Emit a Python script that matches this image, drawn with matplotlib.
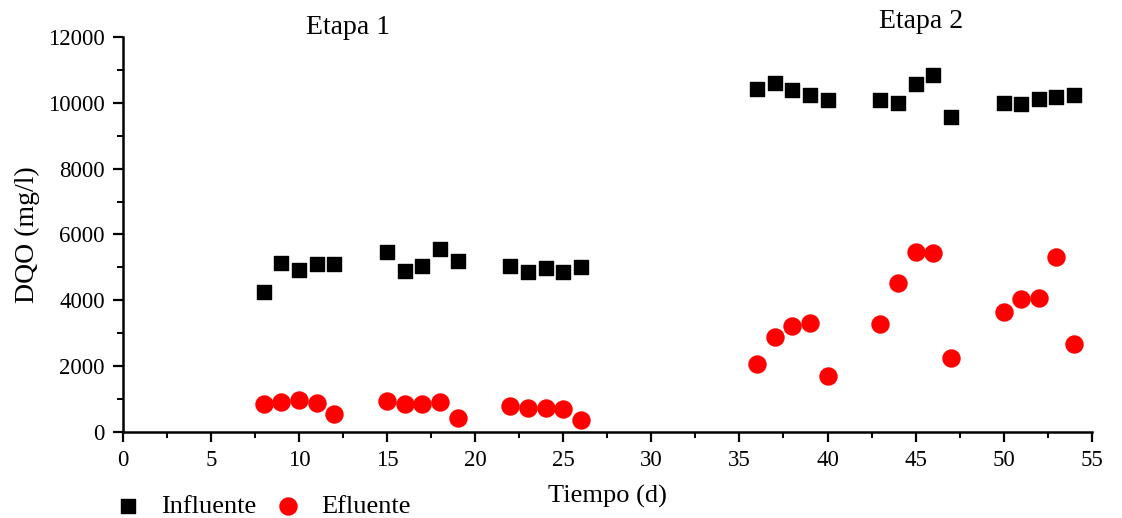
import numpy as np
import matplotlib.pyplot as plt
from matplotlib.ticker import MultipleLocator

plt.rcParams['font.family'] = ['Liberation Serif', 'DejaVu Serif']

# days
dias = [8, 9, 10, 11, 12, 15, 16, 17, 18, 19, 22, 23, 24, 25, 26,
        36, 37, 38, 39, 40, 43, 44, 45, 46, 47, 50, 51, 52, 53, 54]
# DQO influente (mg/l)
influente = [4250, 5130, 4920, 5100, 5100, 5480, 4900, 5050, 5550, 5200,
             5050, 4850, 4980, 4850, 5000,
             10420, 10600, 10400, 10250, 10100, 10100, 9980, 10580, 10850, 9580,
             10000, 9950, 10130, 10180, 10230]
# DQO efluente (mg/l)
efluente = [850, 920, 980, 880, 540, 950, 860, 840, 900, 430,
            790, 720, 720, 700, 380,
            2080, 2900, 3230, 3320, 1690, 3270, 4530, 5460, 5440, 2250,
            3660, 4040, 4070, 5320, 2660]

fig = plt.figure(figsize=(11.22, 5.18), dpi=100)
ax = fig.add_axes([0.1096, 0.166, 0.8634, 0.7626])

ax.scatter(dias, influente, marker='s', s=110, color='black', label='Influente', zorder=3)
ax.scatter(dias, efluente, marker='o', s=150, color='#ff0000', label='Efluente', zorder=3)

ax.set_xlim(0, 55)
ax.set_ylim(0, 12000)
ax.xaxis.set_major_locator(MultipleLocator(5))
ax.xaxis.set_minor_locator(MultipleLocator(2.5))
ax.yaxis.set_major_locator(MultipleLocator(2000))
ax.yaxis.set_minor_locator(MultipleLocator(1000))

for s in ['top', 'right']:
    ax.spines[s].set_visible(False)
for s in ['left', 'bottom']:
    ax.spines[s].set_linewidth(1.8)

ax.tick_params(which='major', direction='out', length=7, width=1.6, labelsize=16.5, pad=6)
ax.tick_params(which='minor', direction='out', length=4, width=1.4)

ax.set_xlabel('Tiempo (d)', fontsize=19, labelpad=10)
ax.set_ylabel('DQO (mg/l)', fontsize=20, labelpad=6)

ax.text(12.8, 12280, 'Etapa 1', fontsize=20, ha='center', va='center', clip_on=False)
ax.text(45.3, 12460, 'Etapa 2', fontsize=20, ha='center', va='center', clip_on=False)

fig.legend(loc='center left', bbox_to_anchor=(0.1, 0.022), ncol=2, frameon=False,
           fontsize=19, handletextpad=0.65, columnspacing=0.6, handlelength=1.2,
           markerscale=1.0, borderaxespad=0, borderpad=0)

fig.savefig('out.png', dpi=100)
